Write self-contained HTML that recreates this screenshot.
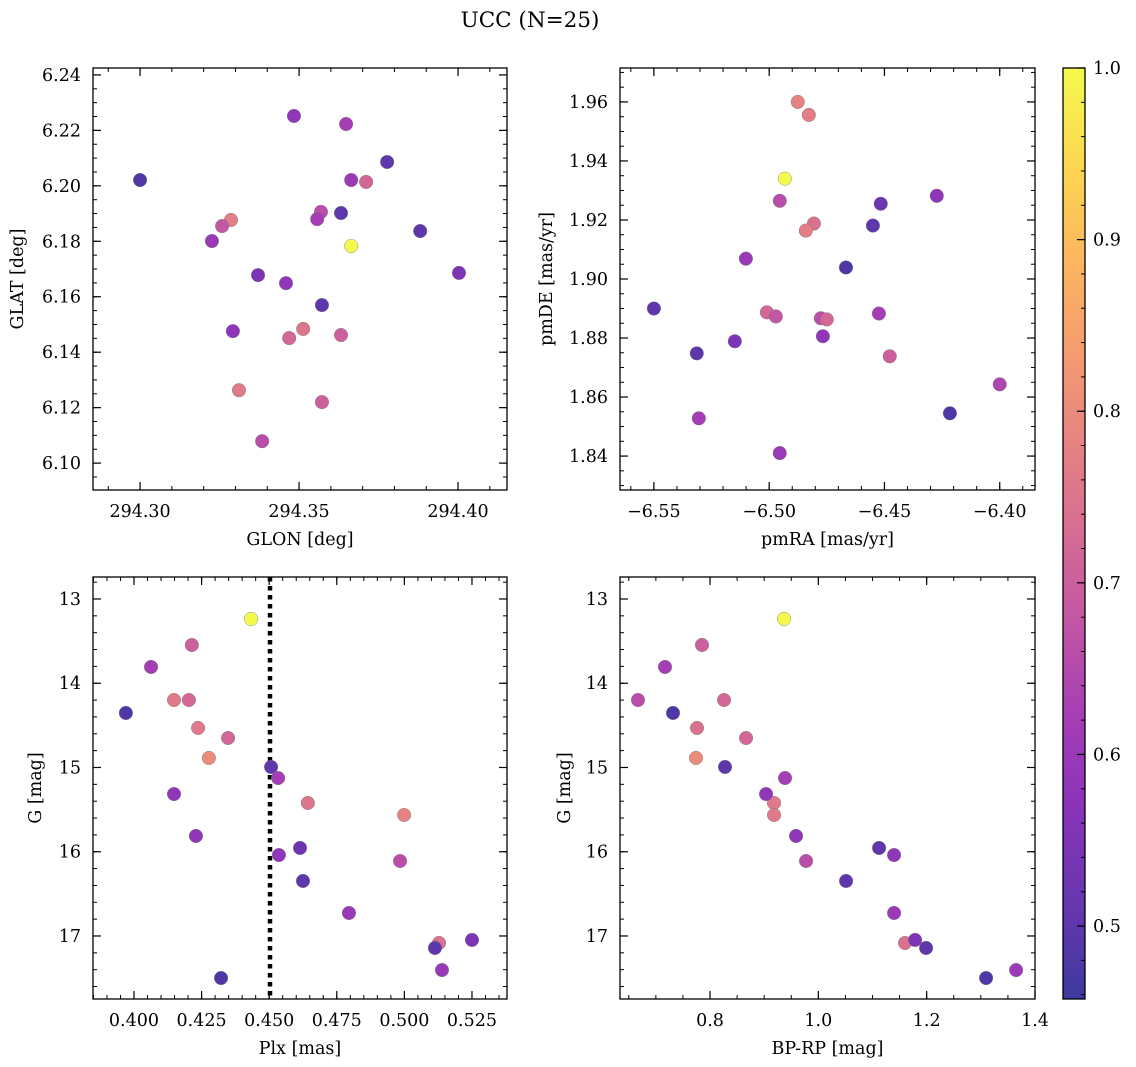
<!DOCTYPE html>
<html><head><meta charset="utf-8"><style>
body{margin:0;background:#fff}
svg{display:block;font-family:"DejaVu Serif","Liberation Serif",serif}
</style></head><body>
<svg id="fig" width="1136" height="1067" xmlns="http://www.w3.org/2000/svg">
<text x="530" y="27" font-size="21.5" text-anchor="middle">UCC (N=25)</text>
</svg>
<script>
// Panel 1: GLON / GLAT
const glon1=[294.300,294.3484,294.3648,294.3777,294.3664,294.3711,294.3569,294.3632,294.3557,294.3286,294.3258,294.3226,294.3664,294.3881,294.4003,294.3371,294.3459,294.3572,294.3292,294.3513,294.3632,294.3469,294.3311,294.3572,294.3384];
const glat1=[6.2021,6.2252,6.2223,6.2086,6.2021,6.2014,6.1906,6.1902,6.1880,6.1877,6.1855,6.1801,6.1783,6.1837,6.1686,6.1678,6.1649,6.1570,6.1476,6.1484,6.1462,6.1451,6.1263,6.1220,6.1079];
const prob1=[0.48,0.58,0.62,0.50,0.60,0.72,0.66,0.50,0.62,0.77,0.68,0.60,1.0,0.50,0.55,0.55,0.58,0.50,0.58,0.75,0.70,0.72,0.76,0.70,0.66];
// Panel 2: pmRA / pmDE
const pmra2=[-6.4876,-6.4828,-6.4932,-6.4273,-6.4954,-6.4516,-6.4550,-6.4806,-6.4841,-6.5101,-6.4667,-6.55,-6.5010,-6.4971,-6.4524,-6.4776,-6.4750,-6.4767,-6.5149,-6.5314,-6.4477,-6.40,-6.4216,-6.5305,-6.4954];
const pmde2=[1.960,1.9556,1.934,1.9282,1.9265,1.9255,1.9181,1.9188,1.9164,1.9069,1.9039,1.890,1.8887,1.8873,1.8883,1.8867,1.8863,1.8806,1.8789,1.8748,1.8738,1.8643,1.8545,1.8528,1.8410];
const prob2=[0.78,0.77,1.0,0.58,0.66,0.52,0.50,0.74,0.77,0.60,0.48,0.50,0.72,0.68,0.62,0.66,0.72,0.58,0.55,0.50,0.70,0.64,0.48,0.62,0.60];
// Panel 3: Plx / G
const plx3=[0.4433,0.4214,0.4063,0.4148,0.4203,0.3970,0.4237,0.4348,0.4277,0.4507,0.4533,0.4643,0.4999,0.4148,0.4229,0.4614,0.4536,0.4984,0.4625,0.4795,0.5128,0.5113,0.525,0.5139,0.4322];
const gmag=[13.237,13.546,13.807,14.199,14.199,14.353,14.531,14.650,14.887,14.994,15.125,15.421,15.564,15.315,15.813,15.955,16.039,16.110,16.347,16.727,17.083,17.142,17.047,17.404,17.499];
const prob3=[1.0,0.70,0.62,0.76,0.72,0.48,0.76,0.72,0.80,0.50,0.62,0.75,0.78,0.58,0.58,0.52,0.58,0.66,0.50,0.60,0.74,0.50,0.55,0.60,0.48];
const plxLine=0.4503;
// Panel 4: BP-RP / G
const bprp4=[0.9367,0.7852,0.7169,0.6670,0.8259,0.7317,0.7760,0.8665,0.7741,0.8277,0.9385,0.9182,0.9182,0.9034,0.9588,1.1121,1.1398,0.9773,1.0512,1.1398,1.1601,1.1989,1.1786,1.3651,1.3097];
const g4=[13.237,13.546,13.807,14.199,14.199,14.353,14.531,14.650,14.887,14.994,15.125,15.421,15.564,15.315,15.813,15.955,16.039,16.110,16.347,16.727,17.083,17.142,17.047,17.404,17.499];
const prob4=[1.0,0.70,0.62,0.66,0.72,0.48,0.74,0.72,0.80,0.50,0.62,0.76,0.76,0.58,0.58,0.50,0.58,0.66,0.50,0.60,0.74,0.50,0.55,0.60,0.48];
const cMin=0.4575,cMax=1.0;

const NS="http://www.w3.org/2000/svg";
const svg=document.getElementById('fig');
function mk(tag,attrs,parent){const e=document.createElementNS(NS,tag);for(const k in attrs)e.setAttribute(k,attrs[k]);(parent||svg).appendChild(e);return e;}
const plasma=[[13,8,135],[65,4,157],[106,0,168],[143,13,164],[177,42,144],[204,71,120],[225,100,98],[242,132,75],[252,166,54],[252,206,37],[240,249,33]];
function cmap(v){let t=(v-cMin)/(cMax-cMin);t=Math.max(0,Math.min(1,t));const p=t*10,i=Math.min(9,Math.floor(p)),f=p-i;const a=plasma[i],b=plasma[i+1];
 const c=[0,1,2].map(k=>Math.round((a[k]+(b[k]-a[k])*f)*0.8+255*0.2));return `rgb(${c[0]},${c[1]},${c[2]})`;}

function panel(o){
 const {x0,x1,y0,y1,xmin,xmax,ymin,ymax,name}=o;
 const sx=v=>x0+(v-xmin)/(xmax-xmin)*(x1-x0);
 const sy=o.inv? v=>y0+(v-ymin)/(ymax-ymin)*(y1-y0) : v=>y1-(v-ymin)/(ymax-ymin)*(y1-y0);
 const g=mk('g',{});
 
 
 const dec=(v,d)=>v.toFixed(d).replace('-','\u2212');
 function ticks(min,max,step){const out=[];const s=Math.ceil(min/step-1e-9);for(let k=s;k*step<=max+1e-9;k++)out.push(k*step);return out;}
 ticks(xmin,xmax,o.xminor).forEach(v=>{const x=sx(v);mk('line',{x1:x,x2:x,y1:y1,y2:y1-4,stroke:'#000','stroke-width':1},g);mk('line',{x1:x,x2:x,y1:y0,y2:y0+4,stroke:'#000','stroke-width':1},g);});
 ticks(ymin,ymax,o.yminor).forEach(v=>{const y=sy(v);mk('line',{x1:x0,x2:x0+4,y1:y,y2:y,stroke:'#000','stroke-width':1},g);mk('line',{x1:x1,x2:x1-4,y1:y,y2:y,stroke:'#000','stroke-width':1},g);});
 ticks(xmin,xmax,o.xmajor).forEach(v=>{const x=sx(v);mk('line',{x1:x,x2:x,y1:y1,y2:y1-8,stroke:'#000','stroke-width':1.2},g);mk('line',{x1:x,x2:x,y1:y0,y2:y0+8,stroke:'#000','stroke-width':1.2},g);
  const t=mk('text',{x:x,y:y1+27,'font-size':17.5,'text-anchor':'middle'},g);t.textContent=dec(v,o.xd);});
 ticks(ymin,ymax,o.ymajor).forEach(v=>{const y=sy(v);mk('line',{x1:x0,x2:x0+8,y1:y,y2:y,stroke:'#000','stroke-width':1.2},g);mk('line',{x1:x1,x2:x1-8,y1:y,y2:y,stroke:'#000','stroke-width':1.2},g);
  const t=mk('text',{x:x0-12,y:y+6,'font-size':17.5,'text-anchor':'end'},g);t.textContent=dec(v,o.yd);});
 if(o.vline!==undefined){const l=mk('line',{x1:sx(o.vline),x2:sx(o.vline),y1:y0,y2:y1,stroke:'#000','stroke-width':4.5,'stroke-dasharray':'4.5,4.5'},g);}
 o.xs.forEach((xv,i)=>{const c=mk('circle',{cx:sx(xv),cy:sy(o.ys[i]),r:6.8,fill:cmap(o.cs[i]),stroke:'#777','stroke-width':0.4},g);
  
  });
 mk('rect',{x:x0,y:y0,width:x1-x0,height:y1-y0,fill:'none',stroke:'#000','stroke-width':1.3},g);
 const xl=mk('text',{x:(x0+x1)/2,y:y1+55,'font-size':17.5,'text-anchor':'middle'},g);xl.textContent=o.xlabel;
 
 const ylx=o.ylx,yc=(y0+y1)/2;
 const yl=mk('text',{x:ylx,y:yc,'font-size':17.5,'text-anchor':'middle',transform:`rotate(-90 ${ylx} ${yc})`},g);yl.textContent=o.ylabel;
 
}
panel({name:'glon-glat-panel',x0:93,x1:507,y0:68,y1:490,xmin:294.2852,xmax:294.4154,ymin:6.0903,ymax:6.2425,xmajor:0.05,xminor:0.01,ymajor:0.02,yminor:0.005,xd:2,yd:2,xs:glon1,ys:glat1,cs:prob1,xlabel:'GLON [deg]',ylabel:'GLAT [deg]',ylx:23});
panel({name:'pm-panel',x0:620,x1:1035,y0:68,y1:490,xmin:-6.5647,xmax:-6.3847,ymin:1.8285,ymax:1.9715,xmajor:0.05,xminor:0.01,ymajor:0.02,yminor:0.005,xd:2,yd:2,xs:pmra2,ys:pmde2,cs:prob2,xlabel:'pmRA [mas/yr]',ylabel:'pmDE [mas/yr]',ylx:552});
panel({name:'plx-g-panel',x0:93,x1:507,y0:577,y1:999,xmin:0.38484,xmax:0.53795,ymin:12.739,ymax:17.748,inv:true,xmajor:0.025,xminor:0.005,ymajor:1,yminor:0.2,xd:3,yd:0,xs:plx3,ys:gmag,cs:prob3,vline:plxLine,xlabel:'Plx [mas]',ylabel:'G [mag]',ylx:41});
panel({name:'cmd-panel',x0:620,x1:1035,y0:577,y1:999,xmin:0.6338,xmax:1.4,ymin:12.739,ymax:17.748,inv:true,xmajor:0.2,xminor:0.05,ymajor:1,yminor:0.2,xd:1,yd:0,xs:bprp4,ys:g4,cs:prob4,xlabel:'BP-RP [mag]',ylabel:'G [mag]',ylx:570});

const cb=mk('g',{});


const defs=mk('defs',{},cb);
const gr=mk('linearGradient',{id:'cbg',x1:0,y1:1,x2:0,y2:0},defs);
for(let i=0;i<=20;i++){const v=cMin+(cMax-cMin)*i/20;mk('stop',{offset:i/20,'stop-color':cmap(v)},gr);}
const cx0=1063,cx1=1085,cy0=68,cy1=999;
mk('rect',{x:cx0,y:cy0,width:cx1-cx0,height:cy1-cy0,fill:'url(#cbg)',stroke:'#000','stroke-width':1.3},cb);
const cy=v=>cy1-(v-cMin)/(cMax-cMin)*(cy1-cy0);
for(let k=23;k<=50;k++){const v=k*0.02;if(v<cMin)continue;mk('line',{x1:cx1,x2:cx1-4,y1:cy(v),y2:cy(v),stroke:'#000','stroke-width':1},cb);}
for(let k=5;k<=10;k++){const v=k/10;const y=cy(v);mk('line',{x1:cx1,x2:cx1-8,y1:y,y2:y,stroke:'#000','stroke-width':1.2},cb);
 const t=mk('text',{x:cx1+8,y:y+6,'font-size':17.5},cb);t.textContent=v.toFixed(1);
 
 }
</script>
</body></html>
